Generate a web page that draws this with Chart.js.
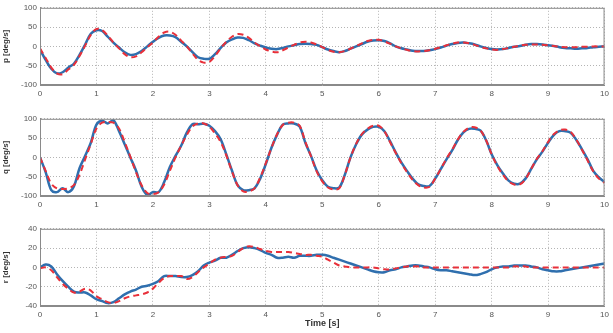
<!DOCTYPE html>
<html lang="en">
<head>
<meta charset="UTF-8">
<script src="https://cdn.jsdelivr.net/npm/chart.js"></script>
<title>p q r</title>
<style>
    body { margin: 0; background: #ffffff; width: 613px; height: 333px; position: relative; overflow: hidden; }
    canvas { position: absolute; left: 0; }
    #c1 { top: 0px; }
    #c2 { top: 111px; }
    #c3 { top: 221px; }
</style>
</head>
<body>

<canvas id="c1" width="613" height="100"></canvas>
<canvas id="c2" width="613" height="100"></canvas>
<canvas id="c3" width="613" height="108"></canvas>

<script>

    // time [s]
    var tempo = [0,0.1,0.2,0.3,0.4,0.5,0.6,0.7,0.8,0.9,1,1.1,1.2,1.3,1.4,1.5,1.6,1.7,1.8,1.9,
        2,2.1,2.2,2.3,2.4,2.5,2.6,2.7,2.8,2.9,3,3.1,3.2,3.3,3.4,3.5,3.6,3.7,3.8,3.9,
        4,4.1,4.2,4.3,4.4,4.5,4.6,4.7,4.8,4.9,5,5.1,5.2,5.3,5.4,5.5,5.6,5.7,5.8,5.9,
        6,6.1,6.2,6.3,6.4,6.5,6.6,6.7,6.8,6.9,7,7.1,7.2,7.3,7.4,7.5,7.6,7.7,7.8,7.9,
        8,8.1,8.2,8.3,8.4,8.5,8.6,8.7,8.8,8.9,9,9.1,9.2,9.3,9.4,9.5,9.6,9.7,9.8,9.9,10];

    var ticksX = [0,1,2,3,4,5,6,7,8,9,10];

    // p [deg/s]
    var pAzul = [-8,-35,-58,-70,-67,-55,-45,-22,5,33,42,40,25,10,-3,-15,-22,-20,-12,0,
        12,22,28,28,24,12,0,-15,-28,-32,-32,-20,-4,10,18,23,22,16,8,2,
        -3,-6,-7,-4,0,3,6,7,6,4,-2,-8,-12,-15,-12,-6,0,6,12,15,
        16,14,8,0,-5,-8,-11,-12,-12,-10,-7,-3,2,6,9,10,8,5,0,-4,
        -7,-8,-7,-4,-1,1,4,6,6,5,3,1,-2,-4,-5,-6,-5,-4,-2,-1,0];
    var pVermelho = [-5,-30,-55,-70,-72,-60,-48,-25,2,30,45,42,28,10,-5,-20,-28,-26,-15,-2,
        10,25,36,38,30,15,0,-18,-35,-42,-40,-25,-5,12,25,32,30,22,10,0,
        -8,-13,-15,-10,-3,4,10,12,10,5,-2,-9,-14,-15,-12,-6,1,8,14,17,
        17,13,7,0,-5,-9,-12,-13,-12,-10,-6,-2,3,7,10,10,8,4,-1,-5,
        -8,-9,-7,-4,-1,2,4,5,5,4,3,1,-1,-2,-2,-2,-1,-1,0,0,0];

    // q [deg/s]
    var qAzul = [0,-38,-85,-90,-80,-90,-75,-28,4,38,85,95,88,96,68,34,0,-34,-76,-97,
        -90,-90,-64,-25,4,30,64,86,86,87,82,68,47,8,-34,-72,-85,-85,-80,-55,
        -17,25,59,85,88,88,80,38,4,-34,-59,-76,-80,-78,-45,0,34,59,72,79,
        79,68,42,13,-13,-35,-55,-70,-74,-74,-55,-30,-5,18,45,65,74,74,70,45,
        8,-20,-42,-60,-68,-68,-55,-30,-5,15,38,58,68,68,64,45,21,-5,-35,-52,-64];
    var qVermelho = [0,-35,-68,-80,-82,-80,-72,-45,-5,35,75,90,92,90,75,40,2,-38,-72,-92,
        -95,-90,-70,-35,0,30,58,80,88,88,80,62,40,5,-36,-72,-88,-88,-80,-52,
        -15,25,60,84,90,90,82,40,3,-36,-62,-78,-83,-80,-45,0,35,60,74,82,
        82,68,40,12,-15,-38,-58,-72,-78,-76,-55,-30,-3,20,46,66,77,78,70,45,
        8,-22,-45,-62,-70,-70,-56,-30,-4,16,40,60,70,72,66,46,20,-8,-36,-55,-66];

    // r [deg/s]
    var rAzul = [0,3,1,-7,-14,-20,-25,-26,-26,-29,-33,-35,-37,-36,-32,-28,-25,-23,-20,-19,
        -17,-14,-9,-9,-9,-10,-10,-8,-4,2,5,7,10,10,13,17,20,21,20,18,
        15,13,10,10,11,10,12,12,12,13,13,12,10,8,6,4,2,0,-2,-4,
        -5,-5,-3,-2,0,1,2,2,1,0,-2,-3,-3,-4,-5,-6,-7,-8,-7,-5,
        -2,0,1,1,2,2,2,1,0,-2,-3,-4,-4,-3,-2,-1,0,1,2,3,4];
    var rVermelho = [-1,0,-3,-10,-17,-22,-26,-25,-22,-24,-30,-33,-36,-37,-35,-32,-30,-29,-28,-26,
        -22,-16,-11,-9,-9,-9,-12,-10,-5,0,4,8,10,11,12,16,20,22,21,19,
        17,16,16,16,16,15,14,13,13,12,11,8,5,2,1,0,0,0,0,0,
        -1,-2,-2,-1,0,1,1,1,0,0,0,0,0,0,0,0,0,0,0,0,
        0,0,0,0,1,1,1,0,0,0,0,0,0,0,0,0,0,0,0,0,0];

    var corAzul = '#2f6fae';
    var corVermelho = '#e8303a';
    var corGrade = '#b4b4b4';
    var corTexto = '#555555';

    function pontos(valores){
        return tempo.map((t, i) => ({ x: t, y: valores[i] }));
    }

    function Gerar(id, azul, vermelho, minY, maxY, passo, tituloY, tituloX){

        const ctx = document.getElementById(id).getContext('2d');
        const grafico = new Chart(ctx, {
            type: 'line',
            data: {
                datasets: [{
                    label: 'medido',
                    data: pontos(azul),
                    borderColor: corAzul,
                    borderWidth: 2.5,
                    pointRadius: 0,
                    tension: 0.35,
                    order: 2
                }, {
                    label: 'referencia',
                    data: pontos(vermelho),
                    borderColor: corVermelho,
                    borderWidth: 2,
                    borderDash: [6, 4],
                    pointRadius: 0,
                    tension: 0.35,
                    order: 1
                }]
            },
            options: {
                responsive: false,
                animation: false,
                layout: { padding: { top: 6, right: 4, left: 0, bottom: 0 } },
                plugins: {
                    legend: { display: false },
                    tooltip: { enabled: false }
                },
                scales: {
                    x: {
                        type: 'linear',
                        min: 0,
                        max: 10,
                        afterBuildTicks: (scale) => { scale.ticks = ticksX.map(v => ({ value: v })); },
                        afterFit: (scale) => { scale.height = tituloX ? 23 : 15; },
                        border: { display: true, color: '#8a8a8a', width: 1, dash: [1, 2] },
                        grid: { color: corGrade, drawTicks: false, lineWidth: 1 },
                        ticks: { color: corTexto, font: { family: 'Liberation Sans', size: 8 }, padding: 4, maxRotation: 0 },
                        title: {
                            display: !!tituloX,
                            text: tituloX,
                            color: '#333333',
                            font: { family: 'Liberation Sans', size: 9, weight: 'bold' },
                            padding: { top: 0, bottom: 0 }
                        }
                    },
                    y: {
                        min: minY,
                        max: maxY,
                        ticks: { stepSize: passo, color: corTexto, font: { family: 'Liberation Sans', size: 8 }, padding: 3 },
                        afterFit: (scale) => { scale.width = 40; },
                        border: { display: true, color: '#8a8a8a', width: 1, dash: [1, 2] },
                        grid: { color: corGrade, drawTicks: false, lineWidth: 1 },
                        title: {
                            display: true,
                            text: tituloY,
                            color: '#333333',
                            font: { family: 'Liberation Sans', size: 8, weight: 'bold' },
                            padding: { top: 1, bottom: 2 }
                        }
                    }
                }
            },
            plugins: [{
                id: 'moldura',
                afterDraw(chart){
                    const a = chart.chartArea;
                    const c = chart.ctx;
                    c.save();
                    c.strokeStyle = '#8a8a8a';
                    c.lineWidth = 1;
                    c.strokeRect(a.left + 0.5, a.top + 0.5, a.right - a.left - 1, a.bottom - a.top - 1);
                    c.restore();
                }
            }]
        });
    }

    Gerar('c1', pAzul, pVermelho, -100, 100, 50, 'p [deg/s]', '');
    Gerar('c2', qAzul, qVermelho, -100, 100, 50, 'q [deg/s]', '');
    Gerar('c3', rAzul, rVermelho, -40, 40, 20, 'r [deg/s]', 'Time [s]');

</script>
</body>
</html>
